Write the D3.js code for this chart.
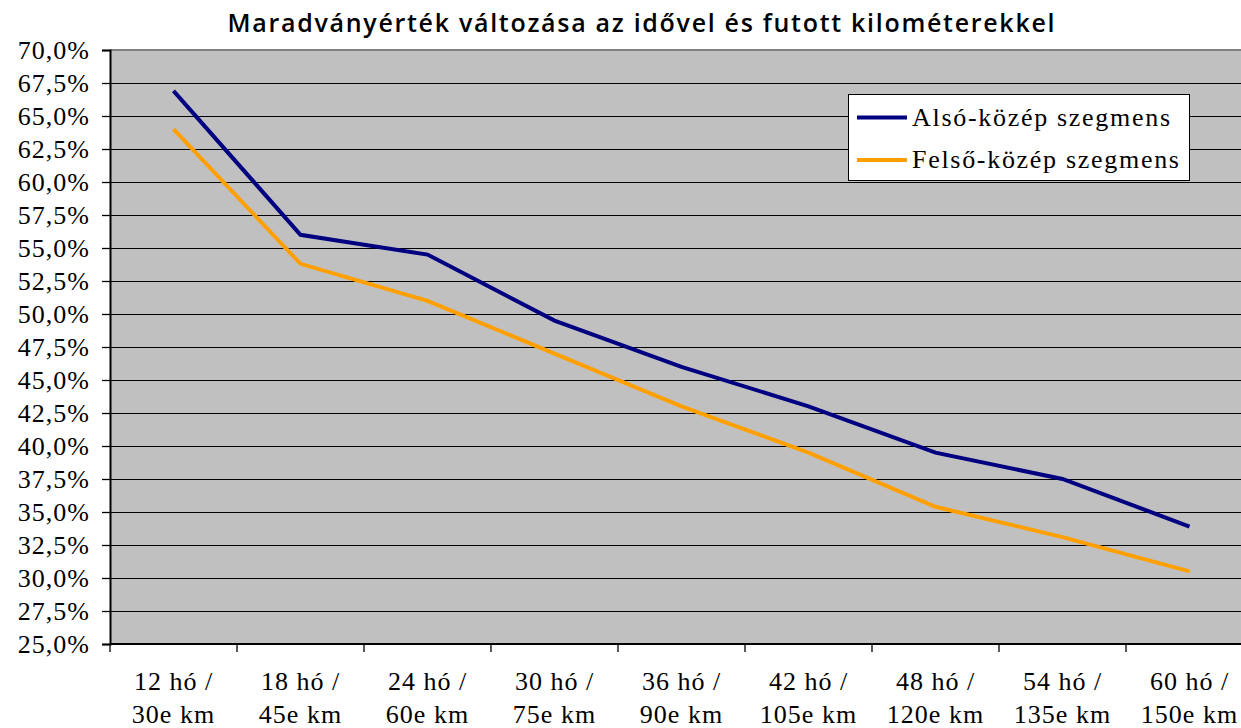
<!DOCTYPE html>
<html><head><meta charset="utf-8">
<script src="https://cdn.jsdelivr.net/npm/d3@7"></script>
<style>body{margin:0;background:#fff}svg{display:block}</style>
</head><body>
<svg id="c" width="1241" height="728"></svg>
<script>
const categories = [["12 hó /","30e km"],["18 hó /","45e km"],["24 hó /","60e km"],["30 hó /","75e km"],["36 hó /","90e km"],["42 hó /","105e km"],["48 hó /","120e km"],["54 hó /","135e km"],["60 hó /","150e km"]];
const alsoKozep = [66.9, 56.0, 54.5, 49.5, 46.0, 43.0, 39.5, 37.5, 33.9];
const felsoKozep = [64.0, 53.8, 51.0, 47.0, 43.0, 39.5, 35.4, 33.1, 30.5];
const yTicks = [25,27.5,30,32.5,35,37.5,40,42.5,45,47.5,50,52.5,55,57.5,60,62.5,65,67.5,70];
const seriesNames = ["Alsó-közép szegmens","Felső-közép szegmens"];
const title = "Maradványérték változása az idővel és futott kilométerekkel";

const svg = d3.select("#c");
const L = 110, T = 50, B = 644, R = 1253;
const idx = categories.map((d,i)=>i);
const x = d3.scaleBand().domain(idx).range([L, R]).padding(0);
const y = d3.scaleLinear().domain([25,70]).range([B, T]);
const fmt = v => d3.format(".1f")(v).replace(".", ",") + "%";

svg.append("rect").attr("x",L).attr("y",T).attr("width",R-L).attr("height",B-T).attr("fill","#c0c0c0");

svg.append("g").selectAll("line").data(yTicks.filter(v=>v>25 && v<70)).join("line")
  .attr("x1",L).attr("x2",R).attr("y1",d=>y(d)).attr("y2",d=>y(d))
  .attr("stroke","#000").attr("stroke-width",1).attr("shape-rendering","crispEdges");
svg.append("line").attr("x1",L).attr("x2",R).attr("y1",T).attr("y2",T).attr("stroke","#808080").attr("stroke-width",2);

const yAxis = d3.axisLeft(y).tickValues(yTicks).tickFormat(fmt).tickSize(8).tickPadding(12);
const gy = svg.append("g").attr("transform",`translate(${L},0)`).call(yAxis);
gy.select(".domain").attr("stroke","#000").attr("stroke-width",2);
gy.selectAll(".tick line").attr("stroke","#000").attr("stroke-width",1.3);
gy.selectAll(".tick text").attr("font-family","'Liberation Serif', serif").attr("font-size",26).attr("letter-spacing",1).attr("fill","#000").attr("dy","0.34em");

const gx = svg.append("g").attr("transform",`translate(0,${B})`);
gx.append("line").attr("x1",L).attr("x2",R).attr("stroke","#000").attr("stroke-width",2);
gx.selectAll("line.tk").data(d3.range(categories.length+1)).join("line").attr("class","tk")
  .attr("x1",d=>L + d*x.bandwidth()).attr("x2",d=>L + d*x.bandwidth()).attr("y1",0).attr("y2",8)
  .attr("stroke","#000").attr("stroke-width",1.3);
const xl = gx.selectAll("text").data(idx).join("text")
  .attr("x",d=>x(d)+x.bandwidth()/2).attr("text-anchor","middle")
  .attr("font-family","'Liberation Serif', serif").attr("font-size",26).attr("letter-spacing",1).attr("fill","#000");
xl.append("tspan").attr("x",d=>x(d)+x.bandwidth()/2).attr("y",46).text(d=>categories[d][0]);
xl.append("tspan").attr("x",d=>x(d)+x.bandwidth()/2).attr("y",79).text(d=>categories[d][1]);

const line = d3.line().x((d,i)=>x(i)+x.bandwidth()/2).y(d=>y(d));
svg.append("path").datum(felsoKozep).attr("d",line).attr("fill","none").attr("stroke","#ffa000").attr("stroke-width",4);
svg.append("path").datum(alsoKozep).attr("d",line).attr("fill","none").attr("stroke","#000080").attr("stroke-width",4);

const lg = svg.append("g");
lg.append("rect").attr("x",848.5).attr("y",94.5).attr("width",341).attr("height",86).attr("fill","#fff").attr("stroke","#000").attr("stroke-width",1);
const colors = ["#000080","#ffa000"];
seriesNames.forEach((n,i)=>{
  const cy = 117.5 + i*42.5;
  lg.append("line").attr("x1",857).attr("x2",907).attr("y1",cy).attr("y2",cy).attr("stroke",colors[i]).attr("stroke-width",4);
  lg.append("text").attr("x",912).attr("y",cy+8).attr("font-family","'Liberation Serif', serif").attr("font-size",26).attr("letter-spacing",1.7).attr("fill","#000").text(n);
});

svg.append("text").attr("x",641).attr("y",32).attr("text-anchor","middle")
  .attr("font-family","'Open Sans', sans-serif").attr("font-size",25).attr("font-weight",600)
  .attr("textLength",827).attr("lengthAdjust","spacing").attr("fill","#000").text(title);
</script>
</body></html>
